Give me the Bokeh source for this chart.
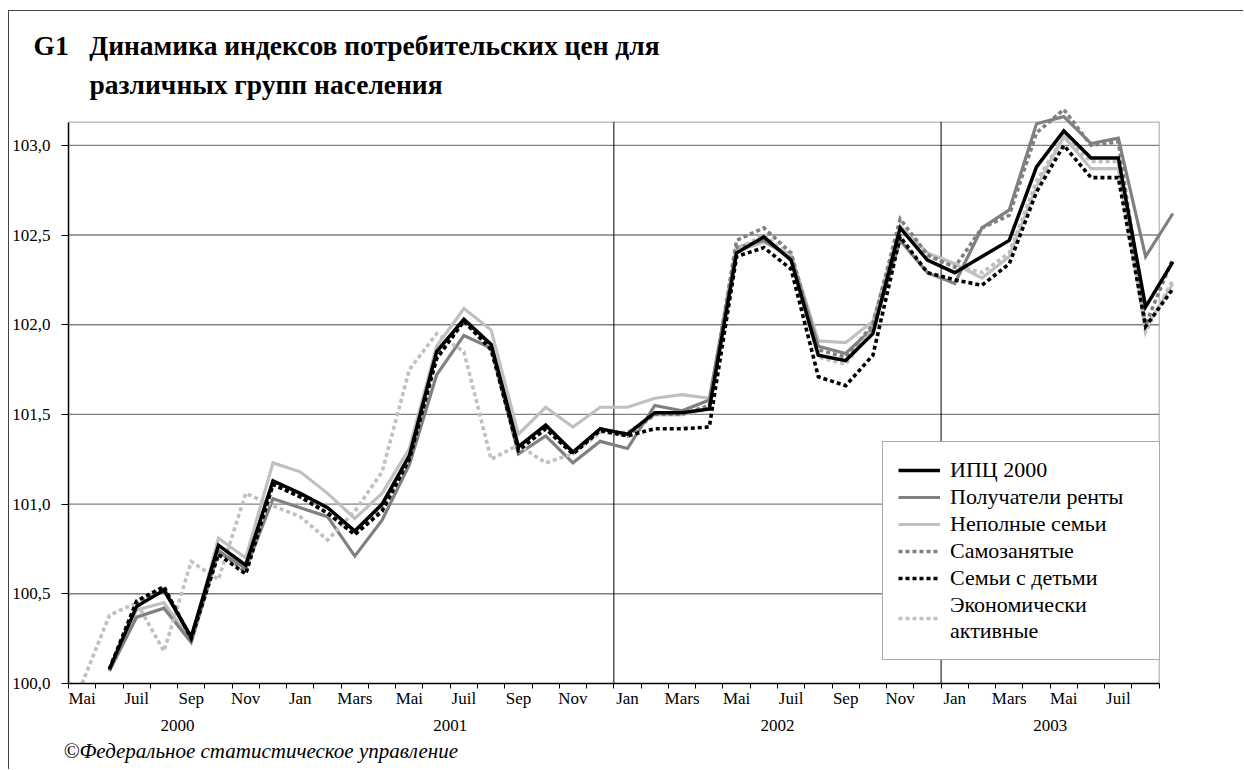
from bokeh.plotting import figure
from bokeh.models import (FixedTicker, LinearAxis, Range1d, BoxAnnotation, Title,
                          Legend, LegendItem, InlineStyleSheet)
from bokeh.embed import file_html
from bokeh.resources import INLINE

nan = float("nan")

# ---- data -----------------------------------------------------------------
# axis categories: May 2000 .. Aug 2003 (40 months); data runs to Sep 2003
n_months = 40
month_labels = ["Mai", "Juil", "Sep", "Nov", "Jan", "Mars", "Mai", "Juil", "Sep", "Nov",
                "Jan", "Mars", "Mai", "Juil", "Sep", "Nov", "Jan", "Mars", "Mai", "Juil"]
years = ["2000", "2001", "2002", "2003"]
year_month_counts = [8, 12, 12, 8]
year_lines = ["2002", "2003"]

y_ticks = [100.0, 100.5, 101.0, 101.5, 102.0, 102.5, 103.0]
y_tick_labels = ["100,0", "100,5", "101,0", "101,5", "102,0", "102,5", "103,0"]

ipc = [nan, 100.08, 100.43, 100.52, 100.26, 100.77, 100.66, 101.13, 101.06, 100.98,
       100.85, 101.00, 101.27, 101.85, 102.03, 101.89, 101.32, 101.44, 101.29, 101.42,
       101.39, 101.51, 101.51, 101.53, 102.40, 102.49, 102.36, 101.83, 101.80, 101.95,
       102.54, 102.36, 102.29, 102.38, 102.47, 102.88, 103.08, 102.93, 102.93, 102.10,
       102.35]
rent = [nan, 100.07, 100.37, 100.42, 100.23, 100.74, 100.64, 101.03, 100.98, 100.93,
        100.71, 100.91, 101.22, 101.72, 101.94, 101.87, 101.28, 101.38, 101.23, 101.35,
        101.31, 101.55, 101.52, 101.58, 102.43, 102.47, 102.37, 101.88, 101.84, 101.98,
        102.47, 102.29, 102.23, 102.54, 102.64, 103.12, 103.16, 103.01, 103.04, 102.38,
        102.62]
single = [nan, 100.07, 100.41, 100.45, 100.24, 100.81, 100.70, 101.23, 101.18, 101.06,
          100.92, 101.06, 101.31, 101.88, 102.09, 101.97, 101.39, 101.54, 101.43, 101.54,
          101.54, 101.59, 101.61, 101.59, 102.41, 102.46, 102.39, 101.91, 101.90, 102.02,
          102.55, 102.40, 102.34, 102.26, 102.38, 102.77, 103.05, 102.87, 102.87, 101.98,
          102.23]
selfemp = [nan, 100.08, 100.45, 100.53, 100.25, 100.74, 100.62, 101.11, 101.04, 100.95,
           100.83, 100.98, 101.25, 101.83, 102.02, 101.87, 101.30, 101.42, 101.28, 101.42,
           101.38, 101.50, 101.50, 101.55, 102.47, 102.54, 102.40, 101.86, 101.82, 102.00,
           102.59, 102.39, 102.32, 102.54, 102.61, 103.07, 103.20, 103.00, 103.02, 102.00,
           102.37]
children = [nan, 100.08, 100.46, 100.54, 100.25, 100.72, 100.61, 101.11, 101.04, 100.95,
            100.83, 100.96, 101.25, 101.81, 102.02, 101.86, 101.30, 101.42, 101.28, 101.41,
            101.38, 101.42, 101.42, 101.43, 102.38, 102.43, 102.31, 101.71, 101.66, 101.83,
            102.49, 102.29, 102.25, 102.22, 102.34, 102.74, 103.00, 102.82, 102.82, 101.99,
            102.20]
active = [100.00, 100.38, 100.45, 100.18, 100.68, 100.58, 101.06, 100.99, 100.93, 100.80,
          100.96, 101.18, 101.75, 101.95, 101.85, 101.25, 101.33, 101.23, 101.28, 101.40,
          101.40, 101.50, 101.50, 101.53, 102.42, 102.50, 102.38, 101.82, 101.78, 101.98,
          102.55, 102.38, 102.33, 102.29, 102.40, 102.80, 103.05, 102.91, 102.91, 101.96,
          102.25]

series_names = ["ИПЦ 2000", "Получатели ренты", "Неполные семьи", "Самозанятые",
                "Семьи с детьми", "Экономически\nактивные"]
series_values = [ipc, rent, single, selfemp, children, active]

chart_no = "G1"
title_lines = ["Динамика индексов потребительских цен для", "различных групп населения"]
source_note = "©Федеральное статистическое управление"

# ---- styles ----------------------------------------------------------------
colors = ["#000000", "#808080", "#c0c0c0", "#808080", "#000000", "#c0c0c0"]
dashes = ["solid", "solid", "solid", "4 3", "4 3", "4 3"]
widths = [3.5, 3.2, 3.2, 3.6, 3.6, 3.6]
draw_order = [2, 1, 5, 3, 4, 0]

FONT = "Liberation Serif"
Y_TOP = 103.13
W, H = 1235, 759
LEFT, TOP, RIGHT, BOTTOM = 56, 89, 58, 87

p = figure(width=W, height=H, output_backend="svg", toolbar_location=None,
           x_range=Range1d(-0.5, n_months + 0.5), y_range=Range1d(100.0, 103.25),
           min_border_left=LEFT, min_border_right=RIGHT, min_border_top=TOP,
           min_border_bottom=BOTTOM, x_axis_type=None, y_axis_type=None)
p.outline_line_color = None
p.xgrid.visible = False
p.ygrid.visible = False
p.background_fill_color = "white"
p.border_fill_color = "white"
p.stylesheets = [InlineStyleSheet(css=":host { margin-left: 8px; margin-top: 10px; "
                                      "border-left: 1px solid #444; border-top: 1px solid #444; }")]

x_all = list(range(n_months + 1))
boundaries = [i - 0.5 for i in range(n_months + 1)]
x_lo, x_hi = boundaries[0], boundaries[-1]

# horizontal grid lines (from tick values)
grid_y = y_ticks[1:]
p.segment(x0=[x_lo] * len(grid_y), x1=[x_hi] * len(grid_y), y0=grid_y, y1=grid_y,
          line_color="#808080", line_width=1.4)

# vertical year separators
cum = [0]
for c in year_month_counts:
    cum.append(cum[-1] + c)
sep_x = [cum[years.index(y)] - 0.5 for y in year_lines]
p.segment(x0=sep_x, x1=sep_x, y0=[100.0] * len(sep_x), y1=[Y_TOP] * len(sep_x),
          line_color="#000000", line_width=1)

# plot-area frame
p.add_layout(BoxAnnotation(left=x_lo, right=x_hi, bottom=100.0, top=Y_TOP,
                           fill_color=None, line_color="#000000", line_width=1.2,
                           level="underlay"))

# series
renderers = [None] * len(series_values)
for k in draw_order:
    renderers[k] = p.line(x_all, series_values[k], line_color=colors[k],
                          line_width=widths[k], line_dash=dashes[k], line_join="miter")

# x axis: month labels at centres, tick marks at boundaries
label_pos = list(range(0, n_months, 2))
xaxis = LinearAxis(ticker=FixedTicker(ticks=label_pos, minor_ticks=boundaries),
                   major_label_overrides={pos: lab for pos, lab in zip(label_pos, month_labels)},
                   bounds=(x_lo, x_hi))
xaxis.major_tick_in = 0
xaxis.major_tick_out = 0
xaxis.minor_tick_in = 0
xaxis.minor_tick_out = 5
xaxis.minor_tick_line_color = "#000000"
xaxis.axis_line_color = "#000000"
xaxis.axis_line_width = 1.5
xaxis.major_label_standoff = 0
xaxis.major_label_text_font = FONT
xaxis.major_label_text_font_size = "17px"
xaxis.major_label_text_color = "#000000"
p.add_layout(xaxis, "below")

year_centres = [(cum[i] + cum[i + 1]) / 2 - 0.5 for i in range(len(years))]
year_axis = LinearAxis(ticker=FixedTicker(ticks=year_centres),
                       major_label_overrides={c: y for c, y in zip(year_centres, years)})
year_axis.axis_line_color = None
year_axis.major_tick_line_color = None
year_axis.minor_tick_line_color = None
year_axis.major_tick_out = 0
year_axis.major_tick_in = 0
year_axis.major_label_standoff = 9
year_axis.major_label_text_font = FONT
year_axis.major_label_text_font_size = "17px"
year_axis.major_label_text_color = "#000000"
p.add_layout(year_axis, "below")

p.add_layout(Title(text=source_note, align="left", offset=-5, standoff=7,
                   text_font=FONT, text_font_style="italic", text_font_size="21px",
                   text_color="#000000"), "below")

yaxis = LinearAxis(ticker=FixedTicker(ticks=y_ticks),
                   major_label_overrides={t: l for t, l in zip(y_ticks, y_tick_labels)},
                   bounds=(100.0, Y_TOP))
yaxis.major_tick_in = 0
yaxis.major_tick_out = 7
yaxis.minor_tick_line_color = None
yaxis.axis_line_color = "#000000"
yaxis.axis_line_width = 1.5
yaxis.major_label_standoff = 11
yaxis.major_label_text_font = FONT
yaxis.major_label_text_font_size = "17px"
yaxis.major_label_text_color = "#000000"
p.add_layout(yaxis, "left")

# titles (nearest the plot is added first)
p.add_layout(Title(text=title_lines[1], align="left", offset=21, standoff=1,
                   text_font=FONT, text_font_style="bold", text_font_size="27.5px",
                   text_color="#000000"), "above")
p.add_layout(Title(text=chart_no + "\u00a0\u00a0\u00a0" + title_lines[0], align="left",
                   offset=-35, standoff=11, text_font=FONT, text_font_style="bold",
                   text_font_size="27.5px", text_color="#000000"), "above")

legend = Legend(items=[LegendItem(label=series_names[k], renderers=[renderers[k]])
                       for k in range(len(series_names))],
                location=(814, 23))
legend.label_text_font = FONT
legend.label_text_font_size = "22px"
legend.label_text_color = "#000000"
legend.label_text_line_height = 0.95
legend.glyph_width = 42
legend.glyph_height = 22
legend.label_height = 22
legend.label_width = 194
legend.label_standoff = 10
legend.padding = 15
legend.spacing = 1
legend.border_line_color = "#555555"
legend.border_line_width = 1.5
legend.background_fill_color = "white"
legend.background_fill_alpha = 1.0
p.add_layout(legend)

open("out.html", "w").write(file_html(p, INLINE))
